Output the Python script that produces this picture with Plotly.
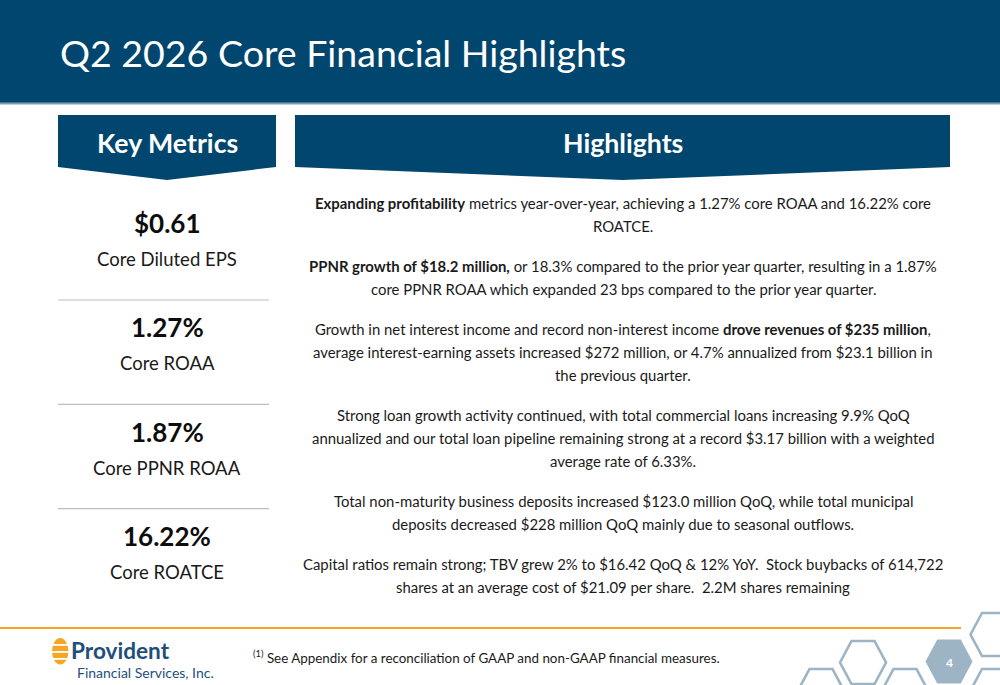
import plotly.graph_objects as go

# slide content
title_text = "Q2 2026 Core Financial Highlights"
panel_titles = ["Key Metrics", "Highlights"]

metric_values = ["$0.61", "1.27%", "1.87%", "16.22%"]
metric_labels = ["Core Diluted EPS", "Core ROAA", "Core PPNR ROAA", "Core ROATCE"]

highlights = [
    ["<b>Expanding profitability</b> metrics year-over-year, achieving a 1.27% core ROAA and 16.22% core",
     "ROATCE."],
    ["<b>PPNR growth of $18.2 million,</b> or 18.3% compared to the prior year quarter, resulting in a 1.87%",
     "core PPNR ROAA which expanded 23 bps compared to the prior year quarter."],
    ["Growth in net interest income and record non-interest income <b>drove revenues of $235 million</b>,",
     "average interest-earning assets increased $272 million, or 4.7% annualized from $23.1 billion in",
     "the previous quarter."],
    ["Strong loan growth activity continued, with total commercial loans increasing 9.9% QoQ",
     "annualized and our total loan pipeline remaining strong at a record $3.17 billion with a weighted",
     "average rate of 6.33%."],
    ["Total non-maturity business deposits increased $123.0 million QoQ, while total municipal",
     "deposits decreased $228 million QoQ mainly due to seasonal outflows."],
    ["Capital ratios remain strong; TBV grew 2% to $16.42 QoQ &amp; 12% YoY.  Stock buybacks of 614,722",
     "shares at an average cost of $21.09 per share.  2.2M shares remaining"],
]

footnote = "<sup>(1)</sup> See Appendix for a reconciliation of GAAP and non-GAAP financial measures."
company = ["Provident", "Financial Services, Inc."]
page_no = "4"

NAVY = "#00466E"
ORANGE = "#F5A623"
HEX = "#9DB4C5"
FONT = "Lato"
TXT = "#1a1a1a"

fig = go.Figure()
shapes = []
ann = []


def text(x, y, s, size, color=TXT, anchor="center"):
    ann.append(dict(x=x, y=y, text=s, xanchor=anchor, yanchor="middle", showarrow=False,
                    font=dict(family=FONT, size=size, color=color)))


# title bar
shapes.append(dict(type="rect", x0=0, x1=1000, y0=0, y1=103, fillcolor=NAVY, line_width=0))
shapes.append(dict(type="rect", x0=0, x1=1000, y0=102.5, y1=104.5, fillcolor="#7f9fb8", line_width=0))
text(58, 52, title_text, 37.5, "white", "left")

# panel headers with chevron bottom
for (x0, x1), label in zip([(58, 276), (295, 950)], panel_titles):
    xm = (x0 + x1) / 2
    shapes.append(dict(type="path", fillcolor=NAVY, line_width=0,
                       path=f"M {x0},115 L {x1},115 L {x1},167 L {xm},180 L {x0},167 Z"))
    text(xm, 143, f"<b>{label}</b>", 26.7, "white")

# key metrics column
for i, (v, lab) in enumerate(zip(metric_values, metric_labels)):
    yv = 223 + 104.3 * i
    text(167, yv, f"<b>{v}</b>", 26, "#0d0d0d")
    text(167, yv + 36, lab, 18.5)
    if i < len(metric_values) - 1:
        shapes.append(dict(type="line", x0=58, x1=269, y0=yv + 77, y1=yv + 77,
                           line=dict(color="#bdbdbd", width=1.2)))

# highlights text
y = 203
for para in highlights:
    for line in para:
        text(623, y, line, 14.9)
        y += 23.2
    y += 16.5

# footer
shapes.append(dict(type="line", x0=0, x1=961, y0=628, y1=628, line=dict(color=ORANGE, width=2)))
text(251, 657, footnote, 13.4, anchor="left")

# logo: striped hive mark + name
shapes.append(dict(type="circle", x0=52, x1=68.5, y0=638, y1=664.5, fillcolor=ORANGE, line_width=0))
for yy in (644, 651, 658):
    shapes.append(dict(type="rect", x0=50, x1=71, y0=yy, y1=yy + 1.8, fillcolor="white", line_width=0))
text(69, 650, f"<b>{company[0]}</b>", 22.6, "#1f4f7b", "left")
text(75, 672, company[1], 14, "#1f4f7b", "left")


# honeycomb decoration
def hexpath(cx, cy, r=23, ry=21.5):
    pts = [(cx - r, cy), (cx - r / 2, cy - ry), (cx + r / 2, cy - ry),
           (cx + r, cy), (cx + r / 2, cy + ry), (cx - r / 2, cy + ry)]
    return "M " + " L ".join(f"{px},{py}" for px, py in pts) + " Z"


hex_outline = [(821, 690.5), (863, 662.5), (905, 690.5), (993.5, 634.5), (993.5, 690.5)]
for cx, cy in hex_outline:
    shapes.append(dict(type="path", path=hexpath(cx, cy), line=dict(color=HEX, width=2.6),
                       fillcolor="rgba(0,0,0,0)"))
shapes.append(dict(type="path", path=hexpath(949, 661.5, 23.5, 22), line_width=0, fillcolor=HEX))
text(949, 662, f"<b>{page_no}</b>", 12, "white")

fig.update_layout(
    width=1000, height=685,
    margin=dict(l=0, r=0, t=0, b=0),
    paper_bgcolor="white", plot_bgcolor="white",
    xaxis=dict(range=[0, 1000], visible=False, fixedrange=True),
    yaxis=dict(range=[685, 0], visible=False, fixedrange=True),
    shapes=shapes, annotations=ann, showlegend=False,
)

fig.write_html("out.html", config={"displayModeBar": False},
               post_script="document.body.style.margin='0';")
